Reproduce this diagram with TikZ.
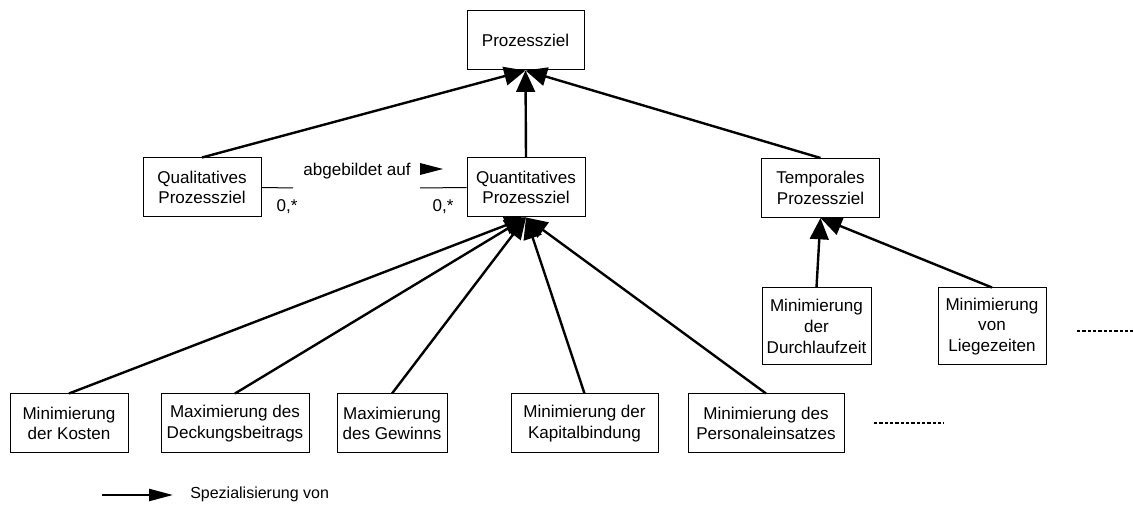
\documentclass[tikz,border=0pt]{standalone}
\usepackage{fontspec}
\setmainfont{Liberation Sans}
\usetikzlibrary{arrows.meta}
\usetikzlibrary{positioning}

\tikzset{
  ziel/.style={draw,line width=0.75pt,align=center,inner sep=2pt,font=\fontsize{12.8}{15.5}\selectfont},
  spez/.style={line width=1.8pt,-{Triangle[length=16pt,width=14pt]}},
  assoz/.style={line width=0.75pt},
  beschr/.style={font=\fontsize{12.8}{15.5}\selectfont,inner sep=1pt},
  weitere/.style={line width=1.3pt,dash pattern=on 2.5pt off 1.5pt},
}

\begin{document}
\begin{tikzpicture}[x=0.75pt,y=-0.75pt]
\useasboundingbox (0,0) rectangle (1133,505);

% oberste Ebene
\node[ziel,minimum width=87.75pt,minimum height=44.25pt] (ziel) at (525.5,40.5) {Prozessziel};

% zweite Ebene
\node[ziel,minimum width=88.5pt,minimum height=44.25pt] (qual) at (202,187.5) {Qualitatives\\Prozessziel};
\node[ziel,minimum width=88.5pt,minimum height=44.25pt] (quant) at (526,187.5) {Quantitatives\\Prozessziel};
\node[ziel,minimum width=88.5pt,minimum height=44.25pt] (temp) at (820.5,188) {Temporales\\Prozessziel};

% temporale Ziele
\node[ziel,minimum width=81.75pt,minimum height=57.75pt] (durchlauf) at (816.5,326.5) {Minimierung\\der\\Durchlaufzeit};
\node[ziel,minimum width=81pt,minimum height=57.75pt] (liege) at (992,326.5) {Minimierung\\von\\Liegezeiten};

% quantitative Ziele
\node[ziel,minimum width=88.5pt,minimum height=44.25pt] (kosten) at (69,423.5) {Minimierung\\der Kosten};
\node[ziel,minimum width=111pt,minimum height=44.25pt] (deckung) at (235,423.5) {Maximierung des\\Deckungsbeitrags};
\node[ziel,minimum width=82.5pt,minimum height=44.25pt] (gewinn) at (392,423.5) {Maximierung\\des Gewinns};
\node[ziel,minimum width=110.25pt,minimum height=44.25pt] (kapital) at (584.5,423.5) {Minimierung der\\Kapitalbindung};
\node[ziel,minimum width=117pt,minimum height=44.25pt] (personal) at (766,423.5) {Minimierung des\\Personaleinsatzes};

% Spezialisierungen
\draw[spez] (qual.north) -- (ziel.south);
\draw[spez] (quant.north) -- (ziel.south);
\draw[spez] (temp.north) -- (ziel.south);
\draw[spez] (durchlauf.north) -- (temp.south);
\draw[spez] (liege.north) -- (temp.south);
\draw[spez] (kosten.north) -- (quant.south);
\draw[spez] (deckung.north) -- (quant.south);
\draw[spez] (gewinn.north) -- (quant.south);
\draw[spez] (kapital.north) -- (quant.south);
\draw[spez] (personal.north) -- (quant.south);

% Assoziation
\coordinate (assA) at (293,188);
\coordinate (assB) at (420,188);
\draw[assoz] (qual.east) -- (assA);
\draw[assoz] (assB) -- (quant.west);
\node[beschr] (kardA) at (287,207) {0,*};
\node[beschr] (kardB) at (443,207) {0,*};
\node[beschr] (abgeb) at (357,171) {abgebildet auf};
\fill (420,163) -- (443,169) -- (420,175) -- cycle;

% weitere Ziele
\draw[weitere] (874,423) -- (944,423);
\draw[weitere] (1077,331) -- (1133,331);

% Legende
\coordinate (legA) at (102,495);
\coordinate (legB) at (173,495);
\draw[line width=1.8pt,-{Triangle[length=18pt,width=9pt]}] (legA) -- (legB);
\node[anchor=west,font=\fontsize{12}{14}\selectfont,inner sep=0pt] (legT) at (190,494) {Spezialisierung von};

\end{tikzpicture}
\end{document}
